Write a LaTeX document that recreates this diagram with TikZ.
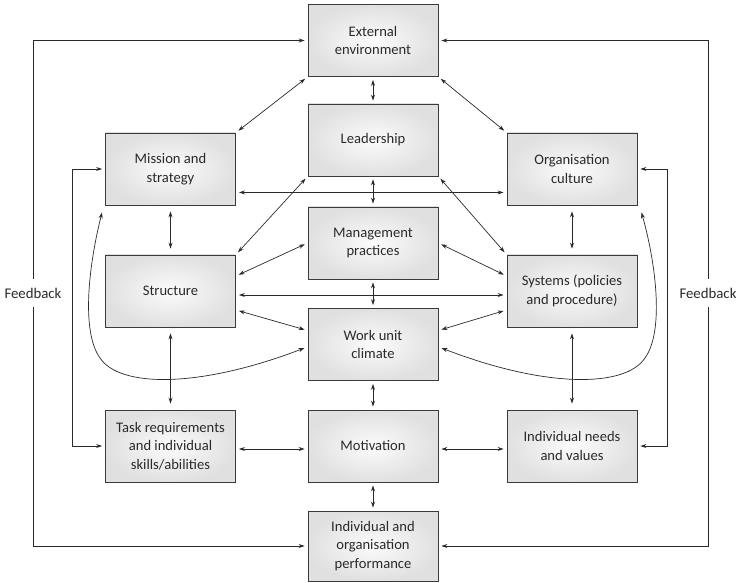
\documentclass[tikz,border=0pt]{standalone}
\usepackage{fontspec}
\setmainfont{Carlito}
\usetikzlibrary{arrows.meta,calc,shadows}
\definecolor{ink}{HTML}{2A2A2A}
\definecolor{boxline}{HTML}{3A3A3A}
\tikzset{
  boxnode/.style={draw=boxline, line width=0.9pt, shading=radial, inner color=gray!3, outer color=gray!24,
    minimum width=130pt, minimum height=72pt, align=center, text=ink, inner sep=2pt,
    font=\fontsize{14.6}{18.5}\selectfont,
    drop shadow={shadow xshift=0.7pt, shadow yshift=-0.7pt, opacity=0.7, fill=black!70}},
  conn/.style={draw=ink, line width=0.7pt, {Stealth[length=6pt,width=4pt]}-{Stealth[length=6pt,width=4pt]}},
  oneway/.style={draw=ink, line width=0.7pt, -{Stealth[length=6pt,width=4pt]}},
  gap/.style={shorten <=3pt, shorten >=3pt},
  widegap/.style={shorten <=6pt, shorten >=6pt},
  fblabel/.style={fill=white, text=ink, inner xsep=1pt, inner ysep=9pt, font=\fontsize{14.8}{18}\selectfont}
}
\begin{document}
\begin{tikzpicture}[x=1pt,y=-1pt]
\useasboundingbox (0,0) rectangle (740,583);
% center column
\node[boxnode] (ext)   at (373,40.5) {External\\environment};
\node[boxnode] (lead)  at (373,140)  {Leadership};
\node[boxnode] (mgmt)  at (373,243)  {Management\\practices};
\node[boxnode] (work)  at (373,344.5){Work unit\\climate};
\node[boxnode] (motiv) at (373,446)  {Motivation};
\node[boxnode, minimum height=70pt] (perf) at (373,546) {Individual and\\organisation\\performance};
% left column
\node[boxnode] (mission) at (170.5,169) {Mission and\\strategy};
\node[boxnode] (struct)  at (170.5,291) {Structure};
\node[boxnode] (task)    at (170.5,446) {Task requirements\\and individual\\skills/abilities};
% right column
\node[boxnode] (org)   at (572,169) {Organisation\\culture};
\node[boxnode] (sys)   at (572,291) {Systems (policies\\and procedure)};
\node[boxnode] (needs) at (572,446) {Individual needs\\and values};
% feedback labels
\node[fblabel] (fbl) at (33,293) {Feedback};
\node[fblabel] (fbr) at (708,293) {Feedback};

% outer feedback loops
\draw[oneway, shorten >=3pt] (fbl.north) |- (ext.west);
\draw[oneway, shorten >=3pt] (fbl.south) |- (perf.west);
\draw[oneway, shorten >=3pt] (fbr.north) |- (ext.east);
\draw[oneway, shorten >=3pt] (fbr.south) |- (perf.east);
% inner feedback loops
\draw[conn, gap] (mission.west) -- ++(-33,0) |- (task.west);
\draw[conn, gap] (org.east) -- ++(30,0) |- (needs.east);

% center vertical
\draw[conn, gap] (ext.south) -- (lead.north);
\draw[conn, gap] (lead.south) -- (mgmt.north);
\draw[conn, gap] (mgmt.south) -- (work.north);
\draw[conn, gap] (work.south) -- (motiv.north);
\draw[conn, gap] (motiv.south) -- (perf.north);
% side verticals
\draw[conn, widegap] (mission.south) -- (struct.north);
\draw[conn, widegap] (struct.south) -- (task.north);
\draw[conn, widegap] (org.south) -- (sys.north);
\draw[conn, widegap] (sys.south) -- (needs.north);
% horizontals
\draw[conn, gap] ($(mission.south east)+(0,-13)$) -- ($(org.south west)+(0,-13)$);
\draw[conn, gap] ($(struct.east)+(0,4)$) -- ($(sys.west)+(0,4)$);
\draw[conn, gap] ($(task.east)+(0,3)$) -- ($(motiv.west)+(0,3)$);
\draw[conn, gap] ($(motiv.east)+(0,3)$) -- ($(needs.west)+(0,3)$);
% diagonals
\draw[conn, gap] (ext.south west) -- (mission.north east);
\draw[conn, gap] (ext.south east) -- (org.north west);
\draw[conn, gap] (lead.south west) -- (struct.north east);
\draw[conn, gap] (lead.south east) -- (sys.north west);
\draw[conn, gap] (mgmt.west) -- ($(struct.east)+(0,-15)$);
\draw[conn, gap] (mgmt.east) -- ($(sys.west)+(0,-15)$);
\draw[conn, gap] ($(work.west)+(0,-14)$) -- ($(struct.east)+(0,19)$);
\draw[conn, gap] ($(work.east)+(0,-14)$) -- ($(sys.west)+(0,19)$);
% curves
\draw[conn] ($(mission.south west)+(-3,7)$) .. controls (90,260) and (80,330) .. (100,358)
  .. controls (120,388) and (200,388) .. ($(work.west)+(-3,3.5)$);
\draw[conn] ($(org.south east)+(4,7)$) .. controls (655,260) and (665,330) .. (645,358)
  .. controls (625,388) and (545,388) .. ($(work.east)+(3,3.5)$);
\end{tikzpicture}
\end{document}
